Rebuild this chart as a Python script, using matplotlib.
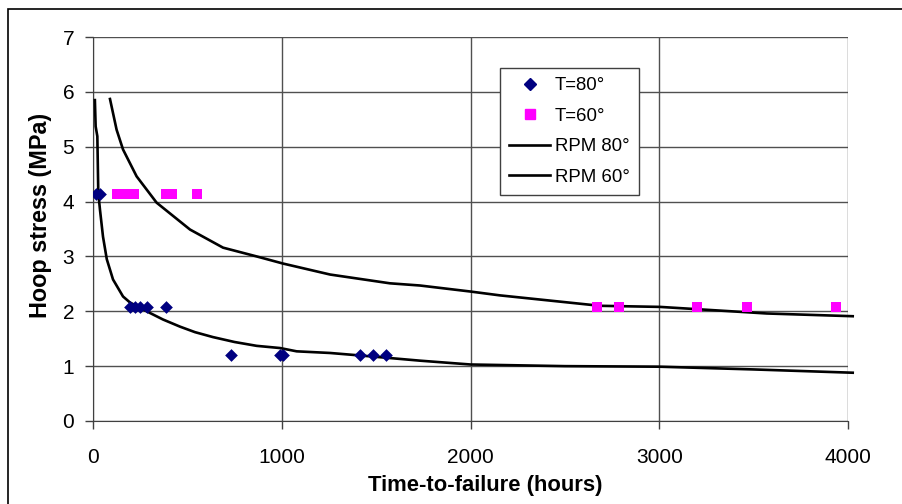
import matplotlib.pyplot as plt
from matplotlib.patches import Rectangle
from matplotlib.lines import Line2D

plt.rcParams['font.family'] = ['Liberation Sans', 'DejaVu Sans']

# Puntos experimentales
t80_hours = [15, 35, 196, 222, 249, 286, 387, 731, 990, 1005, 1415, 1483, 1552]
t80_stress = [4.13, 4.13, 2.07, 2.07, 2.07, 2.07, 2.07, 1.2, 1.2, 1.2, 1.2, 1.2, 1.2]

t60_hours = [127, 172, 217, 388, 417, 549, 2670, 2787, 3200, 3465, 3936]
t60_stress = [4.13, 4.13, 4.13, 4.13, 4.13, 4.13, 2.07, 2.07, 2.07, 2.07, 2.07]

# Curvas RPM
rpm80_hours = [10, 14, 23, 28, 37, 53, 73, 106, 159, 196, 284, 371, 461, 540, 635,
               750, 867, 991, 1079, 1256, 1431, 1732, 2000, 2500, 3000, 3500, 4025]
rpm80_stress = [5.85, 5.37, 5.19, 4.16, 3.85, 3.36, 2.95, 2.58, 2.27, 2.16, 2.0, 1.85,
                1.72, 1.62, 1.53, 1.44, 1.37, 1.33, 1.27, 1.24, 1.19, 1.10, 1.03, 1.0,
                0.99, 0.94, 0.88]

rpm60_hours = [90, 125, 159, 231, 337, 514, 689, 867, 1007, 1256, 1573, 1732, 2000,
               2156, 2686, 3004, 3569, 4025]
rpm60_stress = [5.87, 5.31, 4.95, 4.46, 3.98, 3.49, 3.16, 3.0, 2.87, 2.67, 2.51, 2.47,
                2.36, 2.29, 2.10, 2.08, 1.96, 1.91]

W, H = 902, 504
fig = plt.figure(figsize=(W / 100, H / 100), dpi=100)
ax = fig.add_axes([93 / W, 1 - 421 / H, (848 - 93) / W, (421 - 37) / H])

# Marco exterior
fig.patches.append(Rectangle((8 / W, -0.05), 1.1, 1 - 9 / H + 0.05,
                             transform=fig.transFigure, fill=False,
                             edgecolor='black', linewidth=1.2))

ax.plot(rpm80_hours, rpm80_stress, color='black', linewidth=1.9, clip_on=False, zorder=3)
ax.plot(rpm60_hours, rpm60_stress, color='black', linewidth=1.9, clip_on=False, zorder=3)
ax.scatter(t80_hours, t80_stress, marker='D', s=42, color='#000080', zorder=4, linewidths=0)
ax.scatter(t60_hours, t60_stress, marker='s', s=50, color='#FF00FF', zorder=4, linewidths=0)

ax.set_xlim(0, 4000)
ax.set_ylim(0, 7)
ax.set_xticks([0, 1000, 2000, 3000, 4000])
ax.set_yticks(range(0, 8))
ax.grid(True, color='#505050', linewidth=1)
ax.set_axisbelow(True)

for s in ['top', 'right']:
    ax.spines[s].set_visible(False)
ax.spines['left'].set_color('#404040')
ax.spines['bottom'].set_color('#404040')
ax.tick_params(direction='out', length=5.5, width=1, color='#404040', labelsize=15)
ax.tick_params(axis='x', pad=14)
ax.tick_params(axis='y', pad=8)

ax.set_xlabel('Time-to-failure (hours)', fontsize=15.8, fontweight='bold', va='center')
ax.set_ylabel('Hoop stress (MPa)', fontsize=16.8, fontweight='bold', va='center')
ax.xaxis.set_label_coords(0.519, -64 / 384)
ax.yaxis.set_label_coords(-52 / 755, 0.536)

handles = [
    Line2D([], [], marker='D', color='#000080', linestyle='none', markersize=6),
    Line2D([], [], marker='s', color='#FF00FF', linestyle='none', markersize=7),
    Line2D([], [], color='black', linewidth=1.9),
    Line2D([], [], color='black', linewidth=1.9),
]
labels = ['T=80°', 'T=60°', 'RPM 80°', 'RPM 60°']
leg = fig.legend(handles, labels, loc='upper left',
                 bbox_to_anchor=(500 / W, 1 - 68 / H), fontsize=13.4,
                 frameon=True, fancybox=False, edgecolor='#404040',
                 framealpha=1, labelspacing=0.72, handlelength=2.2,
                 handletextpad=0.25, borderpad=0.5, borderaxespad=0)
leg.get_frame().set_linewidth(1)

plt.savefig('out.png', dpi=100)
